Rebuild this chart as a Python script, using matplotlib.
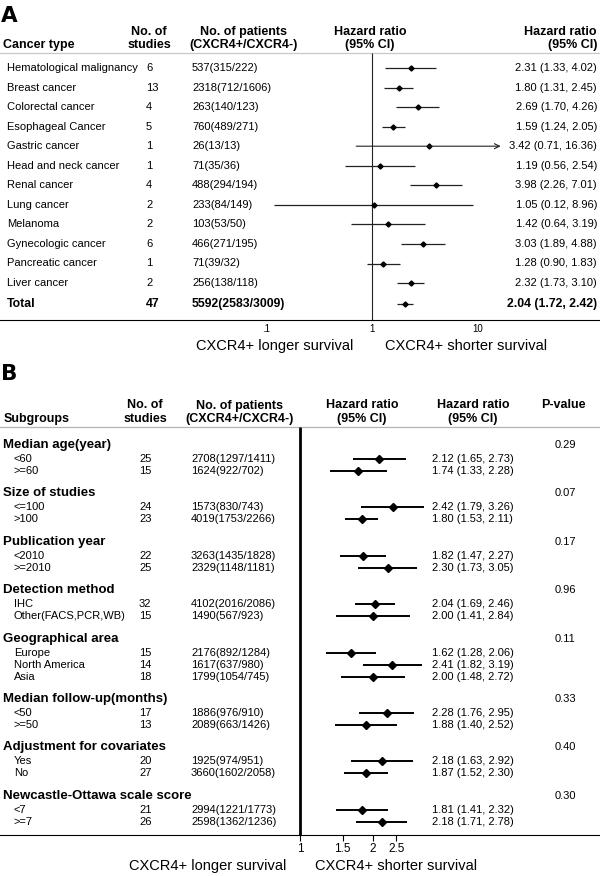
import numpy as np
import matplotlib
matplotlib.use('Agg')
import matplotlib.pyplot as plt
from matplotlib.transforms import blended_transform_factory

plt.rcParams['font.family'] = ['Liberation Sans', 'DejaVu Sans']

# ---------------- Panel A data ----------------
cancer_types = ["Hematological malignancy", "Breast cancer", "Colorectal cancer",
                "Esophageal Cancer", "Gastric cancer", "Head and neck cancer",
                "Renal cancer", "Lung cancer", "Melanoma", "Gynecologic cancer",
                "Pancreatic cancer", "Liver cancer"]
n_studies_A = [6, 13, 4, 5, 1, 1, 4, 2, 2, 6, 1, 2]
patients_A = ["537(315/222)", "2318(712/1606)", "263(140/123)", "760(489/271)",
              "26(13/13)", "71(35/36)", "488(294/194)", "233(84/149)",
              "103(53/50)", "466(271/195)", "71(39/32)", "256(138/118)"]
hr_A = [2.31, 1.80, 2.69, 1.59, 3.42, 1.19, 3.98, 1.05, 1.42, 3.03, 1.28, 2.32]
lo_A = [1.33, 1.31, 1.70, 1.24, 0.71, 0.56, 2.26, 0.12, 0.64, 1.89, 0.90, 1.73]
hi_A = [4.02, 2.45, 4.26, 2.05, 16.36, 2.54, 7.01, 8.96, 3.19, 4.88, 1.83, 3.10]
total_label = "Total"
total_studies = 47
total_patients = "5592(2583/3009)"
total_hr, total_lo, total_hi = 2.04, 1.72, 2.42
ticks_A = [0.1, 1, 10]
tick_labels_A = [".1", "1", "10"]

# ---------------- Panel B data ----------------
groups_B = ["Median age(year)", "Size of studies", "Publication year",
            "Detection method", "Geographical area", "Median follow-up(months)",
            "Adjustment for covariates", "Newcastle-Ottawa scale score"]
p_values_B = ["0.29", "0.07", "0.17", "0.96", "0.11", "0.33", "0.40", "0.30"]
sub_labels_B = [["<60", ">=60"], ["<=100", ">100"], ["<2010", ">=2010"],
                ["IHC", "Other(FACS,PCR,WB)"], ["Europe", "North America", "Asia"],
                ["<50", ">=50"], ["Yes", "No"], ["<7", ">=7"]]
n_studies_B = [[25, 15], [24, 23], [22, 25], [32, 15], [15, 14, 18],
               [17, 13], [20, 27], [21, 26]]
patients_B = [["2708(1297/1411)", "1624(922/702)"],
              ["1573(830/743)", "4019(1753/2266)"],
              ["3263(1435/1828)", "2329(1148/1181)"],
              ["4102(2016/2086)", "1490(567/923)"],
              ["2176(892/1284)", "1617(637/980)", "1799(1054/745)"],
              ["1886(976/910)", "2089(663/1426)"],
              ["1925(974/951)", "3660(1602/2058)"],
              ["2994(1221/1773)", "2598(1362/1236)"]]
hr_B = [[2.12, 1.74], [2.42, 1.80], [1.82, 2.30], [2.04, 2.00],
        [1.62, 2.41, 2.00], [2.28, 1.88], [2.18, 1.87], [1.81, 2.18]]
lo_B = [[1.65, 1.33], [1.79, 1.53], [1.47, 1.73], [1.69, 1.41],
        [1.28, 1.82, 1.48], [1.76, 1.40], [1.63, 1.52], [1.41, 1.71]]
hi_B = [[2.73, 2.28], [3.26, 2.11], [2.27, 3.05], [2.46, 2.84],
        [2.06, 3.19, 2.72], [2.95, 2.52], [2.92, 2.30], [2.32, 2.78]]
ticks_B = [1, 1.5, 2, 2.5]
tick_labels_B = ["1", "1.5", "2", "2.5"]

# ---------------- Figure ----------------
W, H = 600, 876
fig = plt.figure(figsize=(6, 8.76), dpi=100)


def make_axes(decade_px, one_px):
    ax = fig.add_axes([0, 0, 1, 1])
    ax.set_xscale('log')
    ax.set_xlim(10 ** (-one_px / decade_px), 10 ** ((W - one_px) / decade_px))
    ax.set_ylim(H, 0)
    ax.axis('off')
    ax.patch.set_visible(False)
    return ax


axA = make_axes(106.0, 372.0)
axB = make_axes(242.0, 300.0)


def txt(ax, xpx, y, s, **kw):
    tr = blended_transform_factory(ax.transAxes, ax.transData)
    kw.setdefault('va', 'center')
    kw.setdefault('fontsize', 8)
    return ax.text(xpx / W, y, s, transform=tr, **kw)


def fmt(h, l, u):
    return f"{h:.2f} ({l:.2f}, {u:.2f})"


# ---------------- Panel A ----------------
txt(axA, 1, 16, "A", fontsize=15.5, fontweight='heavy', family='DejaVu Sans')
hb = dict(fontsize=9, fontweight='bold')
txt(axA, 3, 45, "Cancer type", **hb)
txt(axA, 149, 32, "No. of", ha='center', **hb)
txt(axA, 149, 45, "studies", ha='center', **hb)
txt(axA, 244, 32, "No. of patients", ha='center', **hb)
txt(axA, 244, 45, "(CXCR4+/CXCR4-)", ha='center', **hb)
txt(axA, 370, 32, "Hazard ratio", ha='center', **hb)
txt(axA, 370, 45, "(95% CI)", ha='center', **hb)
txt(axA, 597, 32, "Hazard ratio", ha='right', **hb)
txt(axA, 597, 45, "(95% CI)", ha='right', **hb)

top_A, bot_A = 53, 320
axA.axhline(top_A, color='#c8c8c8', lw=0.9)
axA.vlines(1, top_A, bot_A, color='#222222', lw=0.8)
axA.axhline(bot_A, color='black', lw=0.8)

rows_A = 68 + 19.55 * np.arange(len(cancer_types))
for i, name in enumerate(cancer_types):
    y = rows_A[i]
    txt(axA, 7, y, name)
    txt(axA, 146, y, str(n_studies_A[i]))
    txt(axA, 192, y, patients_A[i])
    txt(axA, 597, y, fmt(hr_A[i], lo_A[i], hi_A[i]), ha='right')
    if hi_A[i] > 10:
        axA.annotate('', xy=(hi_A[i], y), xytext=(lo_A[i], y),
                     arrowprops=dict(arrowstyle='->', lw=0.8, color='#222222',
                                     shrinkA=0, shrinkB=0, mutation_scale=9))
    else:
        axA.hlines(y, lo_A[i], hi_A[i], color='#222222', lw=0.9)
    axA.plot(hr_A[i], y, marker='D', ms=2.6, color='black', ls='none')

y_tot = rows_A[-1] + 21
tb = dict(fontweight='bold', fontsize=8.8)
txt(axA, 7, y_tot, total_label, **tb)
txt(axA, 146, y_tot, str(total_studies), **tb)
txt(axA, 192, y_tot, total_patients, **tb)
txt(axA, 597, y_tot, fmt(total_hr, total_lo, total_hi), ha='right', **tb)
axA.hlines(y_tot, total_lo, total_hi, color='#222222', lw=0.9)
axA.plot(total_hr, y_tot, marker='D', ms=2.6, color='black', ls='none')

for t, lab in zip(ticks_A, tick_labels_A):
    axA.text(t, 329, lab, ha='center', va='center', fontsize=7)
txt(axA, 353, 346, "CXCR4+ longer survival", ha='right', fontsize=10.5)
txt(axA, 385, 346, "CXCR4+ shorter survival", ha='left', fontsize=10.5)

# ---------------- Panel B ----------------
txt(axB, 1, 374, "B", fontsize=15.5, fontweight='heavy', family='DejaVu Sans')
txt(axB, 4, 419, "Subgroups", **hb)
txt(axB, 145, 405.5, "No. of", ha='center', **hb)
txt(axB, 145, 419, "studies", ha='center', **hb)
txt(axB, 240, 405.5, "No. of patients", ha='center', **hb)
txt(axB, 240, 419, "(CXCR4+/CXCR4-)", ha='center', **hb)
txt(axB, 362, 405.5, "Hazard ratio", ha='center', **hb)
txt(axB, 362, 419, "(95% CI)", ha='center', **hb)
txt(axB, 473, 405.5, "Hazard ratio", ha='center', **hb)
txt(axB, 473, 419, "(95% CI)", ha='center', **hb)
txt(axB, 563, 405.5, "P-value", ha='center', **hb)

top_B, bot_B = 427, 835
axB.axhline(top_B, color='#b4b4b4', lw=0.9)
axB.vlines(1, top_B, bot_B, color='black', lw=2.0)
axB.axhline(bot_B, color='black', lw=0.8)

y = 445.0
for g, grp in enumerate(groups_B):
    txt(axB, 3, y, grp, fontsize=9.5, fontweight='bold')
    txt(axB, 565, y, p_values_B[g], ha='center')
    yy = y + 14
    for j, lab in enumerate(sub_labels_B[g]):
        txt(axB, 14, yy, lab)
        txt(axB, 139, yy, str(n_studies_B[g][j]))
        txt(axB, 191, yy, patients_B[g][j])
        txt(axB, 432, yy, fmt(hr_B[g][j], lo_B[g][j], hi_B[g][j]))
        axB.hlines(yy, lo_B[g][j], hi_B[g][j], color='black', lw=1.4)
        axB.plot(hr_B[g][j], yy, marker='D', ms=4, color='black', ls='none')
        last = yy
        yy += 12
    y = last + 22.4

axB.vlines(ticks_B, bot_B, bot_B + 6, color='black', lw=0.8)
for t, lab in zip(ticks_B, tick_labels_B):
    axB.text(t, 849, lab, ha='center', va='center', fontsize=8.5)
txt(axB, 286, 866, "CXCR4+ longer survival", ha='right', fontsize=10.5)
txt(axB, 315, 866, "CXCR4+ shorter survival", ha='left', fontsize=10.5)

fig.savefig('out.png', dpi=100)
